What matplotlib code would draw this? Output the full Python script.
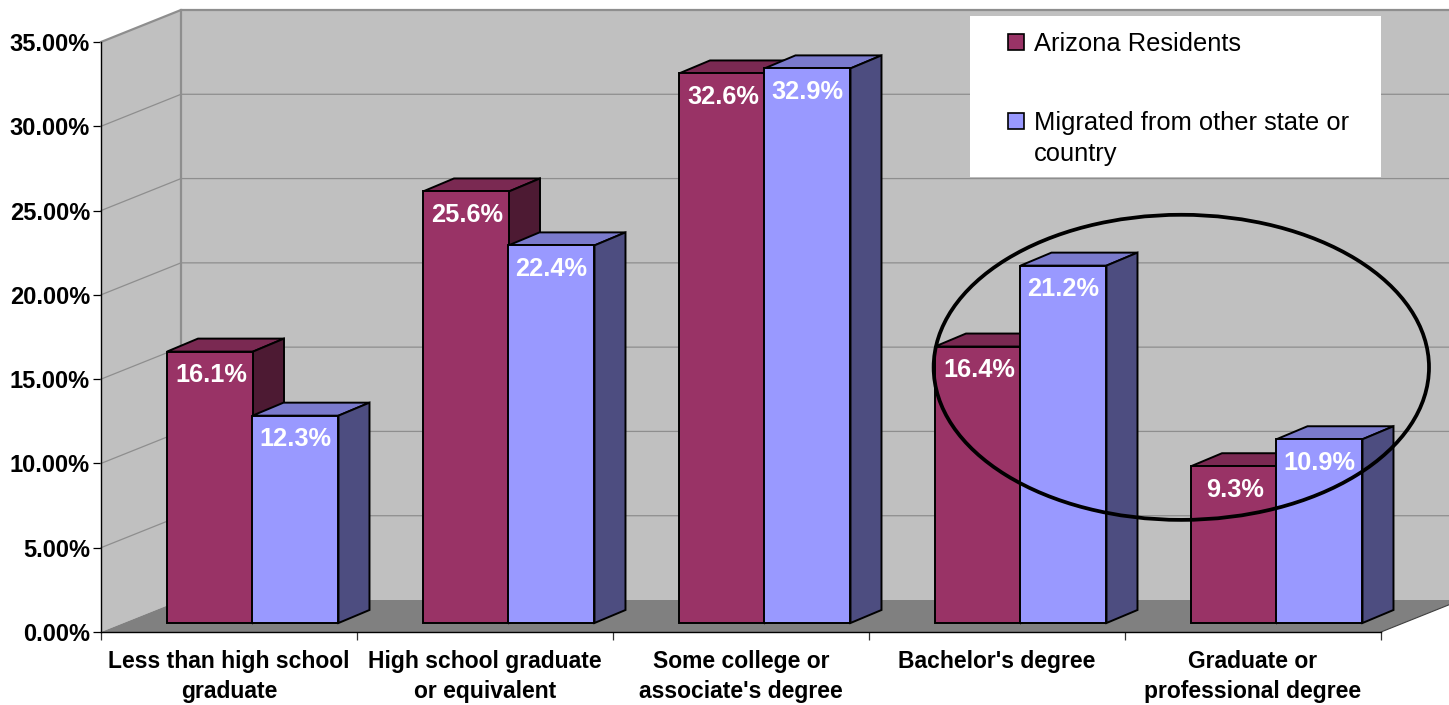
import numpy as np
import matplotlib
matplotlib.use('Agg')
import matplotlib.pyplot as plt
from matplotlib.patches import Ellipse, Rectangle

plt.rcParams['font.family'] = ['Liberation Sans', 'DejaVu Sans']

categories = ['Less than high school\ngraduate', 'High school graduate\nor equivalent',
              "Some college or\nassociate's degree", "Bachelor's degree",
              'Graduate or\nprofessional degree']
arizona = [16.1, 25.6, 32.6, 16.4, 9.3]
migrated = [12.3, 22.4, 32.9, 21.2, 10.9]
y_ticks = [0, 5, 10, 15, 20, 25, 30, 35]
series_names = ['Arizona Residents', 'Migrated from other state or\ncountry']

W, H = 1449, 705
fig = plt.figure(figsize=(W / 100, H / 100), dpi=100, facecolor='white')
ax = fig.add_axes([101 / W, (H - 632) / H, 1280 / W, 590 / H])
ax.patch.set_visible(False)

# depth of the fake 3d box, in data units
wall_dx, wall_dy = 80 / 256, 32 / 16.857
bar_dx, bar_dy = 31 / 256, 13 / 16.857
bar_base = 9 / 16.857
bar_start = 66 / 256
bar_width = 86 / 256

wall_col = '#C0C0C0'
floor_col = '#808080'
grid_col = '#8E8E8E'


def face(xs, ys, color, edge='none', lw=0, z=1):
    ax.fill(xs, ys, facecolor=color, edgecolor=edge, linewidth=lw, zorder=z,
            clip_on=False, joinstyle='miter')


# walls and floor
face([0, wall_dx, wall_dx, 0], [35, 35 + wall_dy, wall_dy, 0], wall_col)
face([wall_dx, 5 + wall_dx, 5 + wall_dx, wall_dx],
     [wall_dy, wall_dy, 35 + wall_dy, 35 + wall_dy], wall_col)
face([0, 5, 5 + wall_dx, wall_dx], [0, 0, wall_dy, wall_dy], floor_col)

# gridlines run along the side wall and the back wall
for v in y_ticks[1:]:
    lw = 1.6 if v == 35 else 0.9
    ax.plot([0, wall_dx, 5 + wall_dx], [v, v + wall_dy, v + wall_dy], color=grid_col,
            lw=lw, zorder=2, clip_on=False, solid_joinstyle='miter')
ax.plot([wall_dx, wall_dx], [wall_dy, 35 + wall_dy], color=grid_col, lw=1.6, zorder=2, clip_on=False)
ax.plot([5, 5 + wall_dx], [0, wall_dy], color='#404040', lw=0.8, zorder=2, clip_on=False)


def bar3d(x, value, front, top, side, z, label_shift=0.0):
    y0 = bar_base
    y1 = bar_base + value
    x1 = x + bar_width
    face([x, x + bar_dx, x1 + bar_dx, x1], [y1, y1 + bar_dy, y1 + bar_dy, y1], top, 'black', 1.4, z)
    face([x1, x1 + bar_dx, x1 + bar_dx, x1], [y0, y0 + bar_dy, y1 + bar_dy, y1], side, 'black', 1.4, z)
    face([x, x1, x1, x], [y0, y0, y1, y1], front, 'black', 1.4, z)
    ax.text(x + bar_width / 2 + label_shift, y1 - 1.4, '%.1f%%' % value, color='white', fontsize=18.3,
            fontweight='bold', ha='center', va='center', zorder=z + 0.5)


red = ('#993366', '#7A2952', '#4D1A33')
blue = ('#9999FF', '#7A7ACC', '#4D4D80')
for i in range(len(categories)):
    bar3d(i + bar_start, arizona[i], *red, z=3 + i * 2, label_shift=0.006)
    bar3d(i + bar_start + bar_width - 0.002, migrated[i], *blue, z=4 + i * 2)

# hand drawn circle around the last two groups
ax.add_patch(Ellipse((4.22, 15.7), 1.935, 18.1, fill=False, edgecolor='black', lw=2.7,
                     zorder=20, clip_on=False))

# legend box
ax.add_patch(Rectangle((869 / 1280, 455 / 590), 411 / 1280, 161 / 590, transform=ax.transAxes,
                       facecolor='white', edgecolor='none', zorder=21, clip_on=False))
legend_y = [590, 511]
for name, col, py in zip(series_names, [red[0], blue[0]], legend_y):
    ax.add_patch(Rectangle((907 / 1280, (py - 8) / 590), 16 / 1280, 16 / 590, transform=ax.transAxes,
                           facecolor=col, edgecolor='black', lw=1.2, zorder=22, clip_on=False))
    ax.text(933 / 1280, (py + 10) / 590, name, transform=ax.transAxes, fontsize=18.4, va='top',
            linespacing=1.36, zorder=22, clip_on=False)

ax.set_xlim(0, 5)
ax.set_ylim(0, 35)
ax.set_yticks(y_ticks)
ax.set_yticklabels(['%.2f%%' % v for v in y_ticks], fontsize=17, fontweight='bold')
ax.set_xticks(np.arange(6))
ax.set_xticklabels([])
ax.set_xticks(np.arange(5) + 0.5, minor=True)
ax.set_xticklabels(categories, minor=True, fontsize=16.5, fontweight='bold', linespacing=1.38)
ax.tick_params(axis='x', which='major', length=6, width=0.9, color='#333333')
ax.tick_params(axis='x', which='minor', length=0, pad=13)
ax.tick_params(axis='y', length=6, width=0.9, pad=2)
ax.spines['top'].set_visible(False)
ax.spines['right'].set_visible(False)
for s in ['left', 'bottom']:
    ax.spines[s].set_zorder(15)
    ax.spines[s].set_linewidth(1.0)

fig.savefig('out.png', dpi=100)
